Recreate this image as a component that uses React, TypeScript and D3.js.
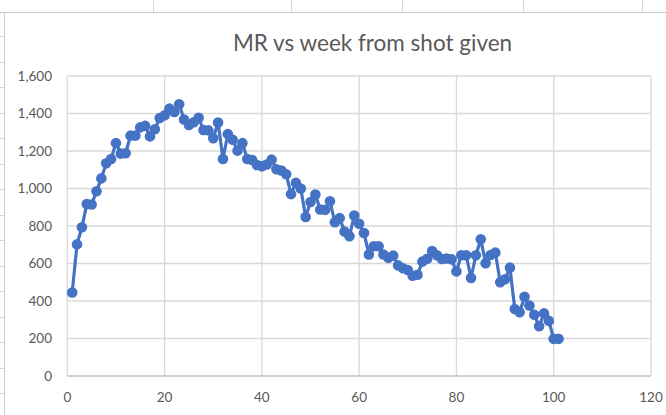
import React, { useEffect, useRef } from "react";
import * as d3 from "d3";

const weeks: number[] = Array.from({ length: 101 }, (_, i) => i + 1);
const mrValues: number[] = [
  445, 702, 793, 917, 915, 985, 1054, 1135, 1157, 1242,
  1186, 1188, 1282, 1282, 1326, 1334, 1278, 1316, 1376, 1390,
  1426, 1408, 1449, 1368, 1339, 1353, 1377, 1312, 1310, 1268,
  1352, 1157, 1290, 1260, 1202, 1242, 1157, 1152, 1125, 1118,
  1128, 1154, 1103, 1096, 1076, 970, 1030, 1000, 848, 928,
  968, 888, 886, 932, 820, 842, 770, 745, 856, 812,
  763, 648, 692, 692, 648, 630, 642, 590, 575, 565,
  535, 540, 610, 625, 667, 644, 624, 627, 622, 558,
  644, 644, 523, 644, 729, 601, 645, 658, 500, 516,
  578, 357, 340, 423, 376, 327, 265, 334, 294, 198,
  198,
];
const xTicks: number[] = [0, 20, 40, 60, 80, 100, 120];
const yTicks: number[] = [0, 200, 400, 600, 800, 1000, 1200, 1400, 1600];
const titleText = "MR vs week from shot given";

const W = 666;
const H = 415;
const FONT = "Lato, 'Open Sans', 'Liberation Sans', sans-serif";

export default function App() {
  const ref = useRef<SVGSVGElement | null>(null);

  useEffect(() => {
    const svg = d3.select(ref.current);
    svg.selectAll("*").remove();

    const left = 67.3, right = 651, top = 76, bottom = 376;
    const x = d3.scaleLinear().domain([0, 120]).range([left, right]);
    const y = d3.scaleLinear().domain([0, 1600]).range([bottom, top]);

    svg.append("rect").attr("width", W).attr("height", H).attr("fill", "#ffffff");

    // spreadsheet background fragments
    const sheet = svg.append("g").attr("stroke", "#d6d6d6").attr("stroke-width", 1);
    [153, 291, 402, 523, 642].forEach((cx) => {
      sheet.append("line").attr("x1", cx + 0.5).attr("x2", cx + 0.5).attr("y1", 0).attr("y2", 12);
    });
    d3.range(-2, 13).forEach((k) => {
      const ry = Math.round(87 + k * 25.5) + 0.5;
      sheet.append("line").attr("x1", 0).attr("x2", 4).attr("y1", ry).attr("y2", ry);
    });
    svg.append("line").attr("x1", 0).attr("x2", W).attr("y1", 12.5).attr("y2", 12.5)
      .attr("stroke", "#c8c8c8").attr("stroke-width", 1);
    svg.append("line").attr("x1", 4.5).attr("x2", 4.5).attr("y1", 13).attr("y2", H)
      .attr("stroke", "#d0d0d0").attr("stroke-width", 1);

    // gridlines
    const grid = svg.append("g").attr("stroke", "#d9d9d9").attr("stroke-width", 1.3);
    yTicks.forEach((t) => {
      if (t === 0) return;
      grid.append("line").attr("x1", left).attr("x2", right).attr("y1", y(t)).attr("y2", y(t));
    });
    xTicks.forEach((t) => {
      grid.append("line").attr("x1", x(t)).attr("x2", x(t)).attr("y1", top).attr("y2", bottom);
    });
    svg.append("line").attr("x1", left).attr("x2", right).attr("y1", y(0)).attr("y2", y(0))
      .attr("stroke", "#bfbfbf").attr("stroke-width", 1.5);

    // tick labels
    const fmt = d3.format(",");
    svg.append("g").selectAll("text").data(yTicks).join("text")
      .attr("x", 52).attr("y", (d) => y(d)).attr("dy", "0.35em")
      .attr("text-anchor", "end").attr("font-family", FONT).attr("font-size", 13.5)
      .attr("fill", "#595959").text((d) => fmt(d));
    svg.append("g").selectAll("text").data(xTicks).join("text")
      .attr("x", (d) => x(d)).attr("y", 397).attr("dy", "0.35em")
      .attr("text-anchor", "middle").attr("font-family", FONT).attr("font-size", 13.5)
      .attr("fill", "#595959").text((d) => fmt(d));

    // title
    svg.append("text").attr("x", 372.5).attr("y", 51).attr("text-anchor", "middle")
      .attr("font-family", FONT).attr("font-size", 22.5).attr("fill", "#595959").text(titleText);

    // series
    const data = weeks.map((w, i) => ({ w, v: mrValues[i] }));
    const line = d3.line<{ w: number; v: number }>().x((d) => x(d.w)).y((d) => y(d.v));
    svg.append("path").datum(data).attr("d", line).attr("fill", "none")
      .attr("stroke", "#4472C4").attr("stroke-width", 3.2).attr("stroke-linejoin", "round");
    svg.append("g").selectAll("circle").data(data).join("circle")
      .attr("cx", (d) => x(d.w)).attr("cy", (d) => y(d.v)).attr("r", 5.3)
      .attr("fill", "#4472C4");
  }, []);

  return (
    <div style={{ position: "absolute", left: 0, top: 0 }}>
      <svg ref={ref} width={W} height={H} style={{ display: "block" }} />
    </div>
  );
}
